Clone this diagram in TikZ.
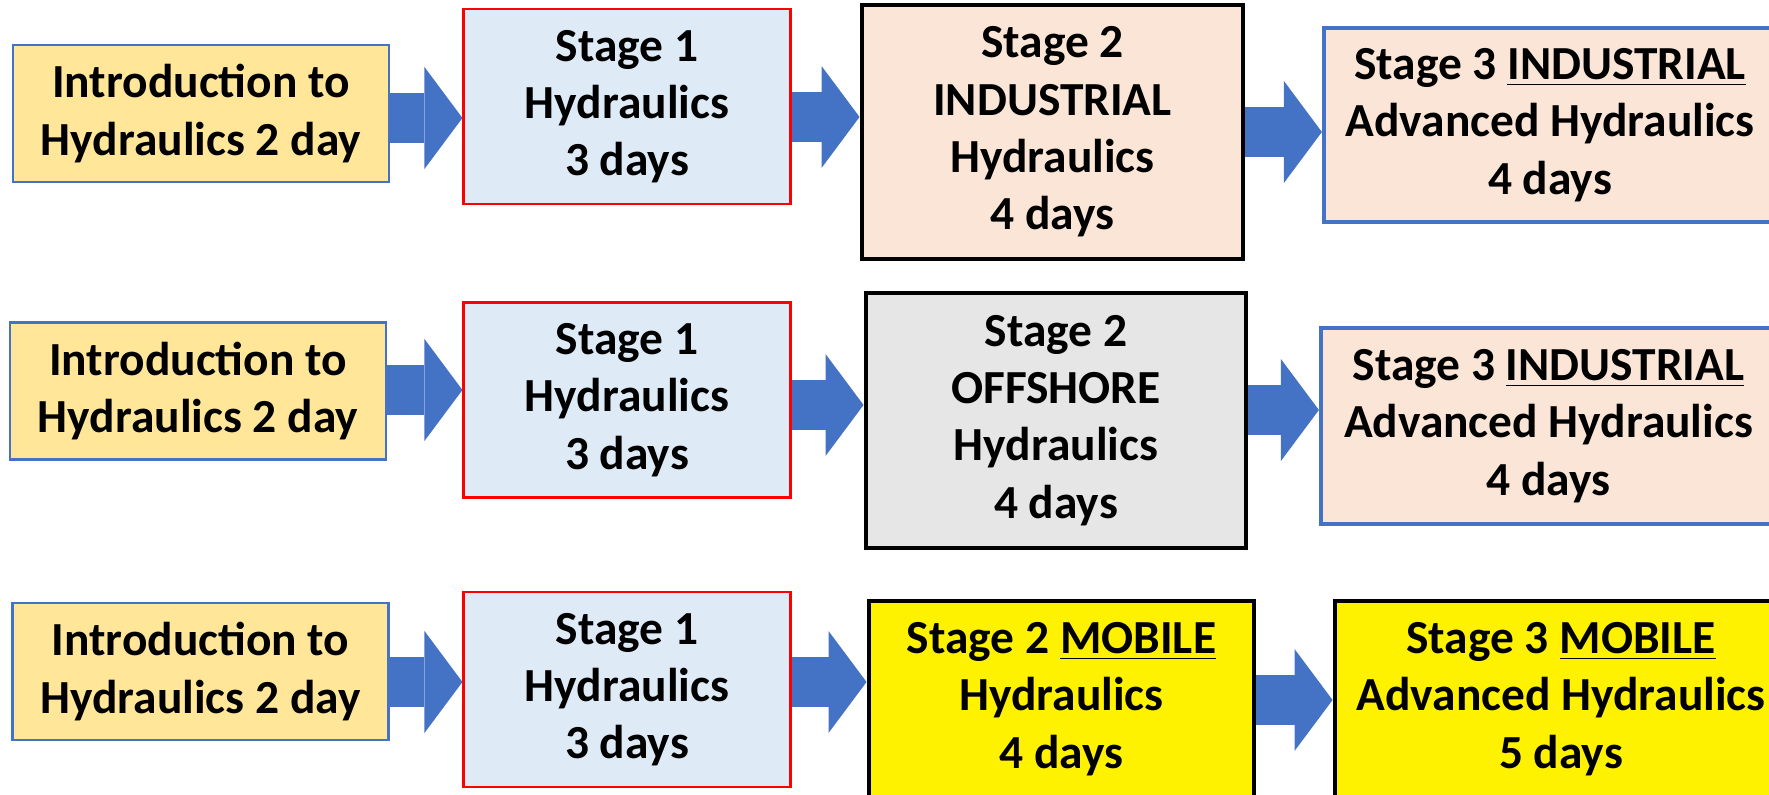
\documentclass[tikz,border=0pt]{standalone}
\usepackage{fontspec}
\setmainfont{Carlito}
\usepackage{tikz}
\usetikzlibrary{arrows.meta, positioning}
\usetikzlibrary{calc}
\usepackage{xcolor}

\definecolor{introfill}{HTML}{FFE699}
\definecolor{officeblue}{HTML}{4472C4}
\definecolor{paleblue}{HTML}{DEEBF7}
\definecolor{peach}{HTML}{FBE5D6}
\definecolor{palegray}{HTML}{E7E6E6}

\tikzset{
	box/.style={inner sep = 0pt, align = center, font=\bfseries\fontsize{13.5}{16.3}\selectfont},
	introbox/.style={box, draw = officeblue, line width = 0.6pt, fill = introfill, minimum width = 3.76cm, minimum height = 1.37cm},
	stageone/.style={box, draw = red, line width = 0.6pt, fill = paleblue, minimum width = 3.27cm, minimum height = 1.95cm},
	stagetwo/.style={box, draw = black, line width = 1.4pt},
	stagethree/.style={box, draw = officeblue, line width = 1.2pt},
	flow/.style={officeblue, line width = 0.5cm, -{Triangle[length=0.38cm, width=1.02cm, line width=0pt]}}
}

\begin{document}
\begin{tikzpicture}
		\useasboundingbox (0cm,0cm) rectangle (17.69cm,-7.95cm);

		% industrial route
		\draw (2.01cm,-1.135cm) node[introbox] (in1) {Introduction to\\Hydraulics 2 day}
		(6.27cm,-1.065cm) node[stageone] (one1) {Stage 1\\Hydraulics\\3 days}
		(10.525cm,-1.32cm) node[stagetwo, fill = peach, minimum width = 3.81cm, minimum height = 2.54cm] (two1) {Stage 2\\INDUSTRIAL\\Hydraulics\\4 days}
		(15.50cm,-1.25cm) node[stagethree, fill = peach, minimum width = 4.52cm, minimum height = 1.94cm] (three1) {Stage 3 \underline{INDUSTRIAL}\\Advanced Hydraulics\\4 days};

		% offshore route
		\draw (1.98cm,-3.91cm) node[introbox] (in2) {Introduction to\\Hydraulics 2 day}
		(6.27cm,-4.0cm) node[stageone] (one2) {Stage 1\\Hydraulics\\3 days}
		(10.56cm,-4.205cm) node[stagetwo, fill = palegray, minimum width = 3.80cm, minimum height = 2.55cm] (two2) {Stage 2\\OFFSHORE\\Hydraulics\\4 days}
		(15.485cm,-4.26cm) node[stagethree, fill = peach, minimum width = 4.55cm, minimum height = 1.96cm] (three2) {Stage 3 \underline{INDUSTRIAL}\\Advanced Hydraulics\\4 days};

		% mobile route
		\draw (2.005cm,-6.715cm) node[introbox] (in3) {Introduction to\\Hydraulics 2 day}
		(6.27cm,-6.895cm) node[stageone] (one3) {Stage 1\\Hydraulics\\3 days}
		(10.615cm,-6.99cm) node[stagetwo, fill = yellow, minimum width = 3.85cm, minimum height = 1.96cm] (two3) {Stage 2 \underline{MOBILE}\\Hydraulics\\4 days}
		(15.61cm,-6.99cm) node[stagetwo, fill = yellow, minimum width = 4.52cm, minimum height = 1.96cm] (three3) {Stage 3 \underline{MOBILE}\\Advanced Hydraulics\\5 days};

		\draw[flow] (in1.east |- 0,-1.18) -- (one1.west |- 0,-1.18);
		\draw[flow] (one1.east |- 0,-1.17) -- (two1.west |- 0,-1.17);
		\draw[flow] (two1.east |- 0,-1.32) -- (three1.west |- 0,-1.32);
		\draw[flow] (in2.east |- 0,-3.90) -- (one2.west |- 0,-3.90);
		\draw[flow] (one2.east |- 0,-4.05) -- (two2.west |- 0,-4.05);
		\draw[flow] (two2.east |- 0,-4.10) -- (three2.west |- 0,-4.10);
		\draw[flow] (in3.east |- 0,-6.82) -- (one3.west |- 0,-6.82);
		\draw[flow] (one3.east |- 0,-6.82) -- (two3.west |- 0,-6.82);
		\draw[flow] (two3.east |- 0,-7.00) -- (three3.west |- 0,-7.00);
	\end{tikzpicture}
\end{document}
